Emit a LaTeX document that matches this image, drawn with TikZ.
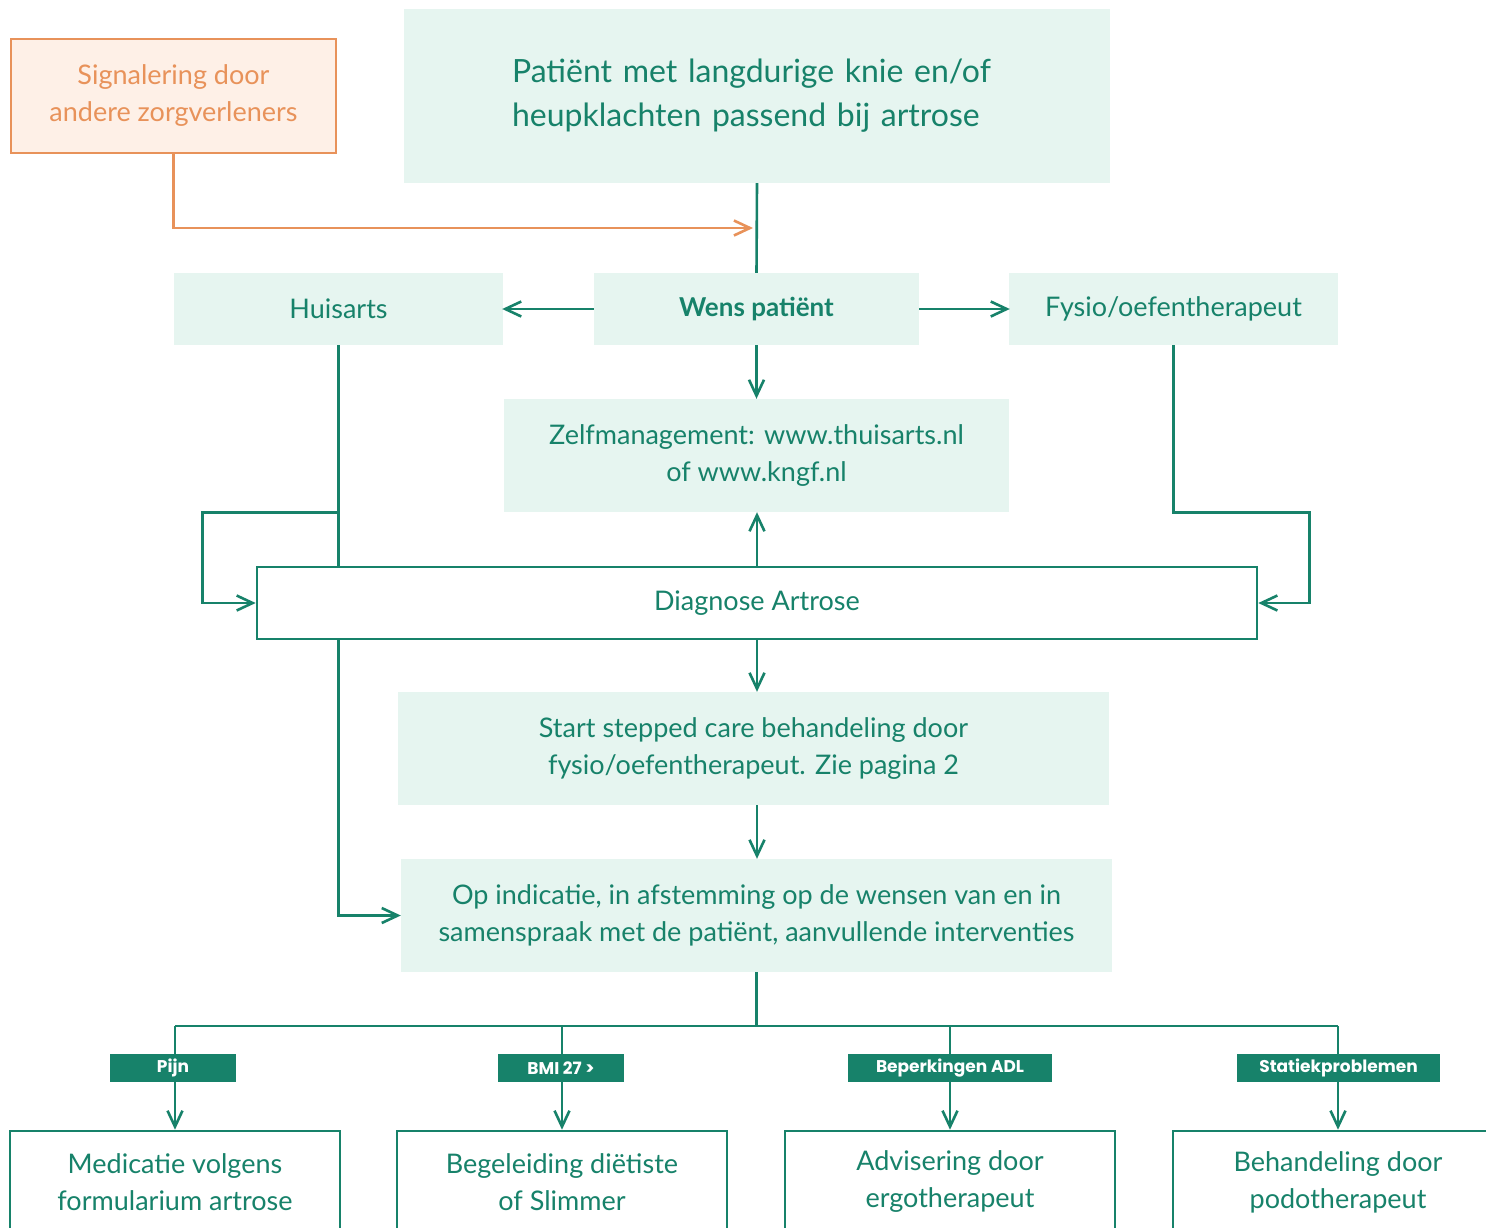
\documentclass[tikz,border=0pt]{standalone}
\usepackage{fontspec}
\setmainfont{Lato}
\newfontfamily\labfont{Poppins}
\usetikzlibrary{arrows.meta}
\definecolor{gr}{HTML}{17826A}
\definecolor{gfill}{HTML}{E6F5F0}
\definecolor{orn}{HTML}{E8925A}
\definecolor{ofill}{HTML}{FEF0E7}
\pgfdeclarelayer{bg}
\pgfdeclarelayer{paper}
\pgfsetlayers{paper,bg,main}
\tikzset{
  gl/.style={draw=gr, line width=2.6pt},
  arr/.style={gl, -{Straight Barb[length=16pt,width=15pt]}},
  oarr/.style={draw=orn, line width=2.6pt, -{Straight Barb[length=16pt,width=15pt]}},
  gbox/.style={fill=gfill, text=gr, inner sep=0pt, align=center, font=\fontsize{27}{37}\selectfont},
  wbox/.style={draw=gr, line width=2.6pt, fill=white, text=gr, inner sep=0pt, align=center, font=\fontsize{27}{37}\selectfont},
  obox/.style={draw=orn, line width=2.6pt, fill=ofill, text=orn, inner sep=0pt, align=center, font=\fontsize{27}{37}\selectfont},
  lab/.style={fill=gr, text=white, inner sep=0pt, minimum height=28pt, font=\labfont\bfseries\fontsize{17}{18}\selectfont}
}
\begin{document}
\begin{tikzpicture}[x=1pt,y=-1pt]
\clip (0,0) rectangle (1486,1227);
\begin{pgfonlayer}{paper}
\fill[white] (0,0) rectangle (1486,1227);
\end{pgfonlayer}
% boxes
\node[obox, minimum width=325pt, minimum height=114pt] (sig) at (173.5,96) {Signalering door\\andere zorgverleners};
\node[gbox, minimum width=706pt, minimum height=174pt, text width=490pt, align=left, font=\fontsize{32}{44}\selectfont] (title) at (757,96) {Patiënt met langdurige knie en/of\\heupklachten passend bij artrose};
\node[gbox, minimum width=329pt, minimum height=72pt] (huis) at (338.5,309) {Huisarts};
\node[gbox, minimum width=325pt, minimum height=72pt, font=\bfseries\fontsize{26}{36}\selectfont] (wens) at (756.5,309) {Wens patiënt};
\node[gbox, minimum width=329pt, minimum height=72pt] (fysio) at (1173.5,309) {Fysio/oefentherapeut};
\node[gbox, minimum width=505pt, minimum height=113pt] (zelf) at (756.5,455.5) {Zelfmanagement: www.thuisarts.nl\\of www.kngf.nl};
\node[wbox, minimum width=1000pt, minimum height=72pt] (diag) at (757,603) {Diagnose Artrose};
\node[gbox, minimum width=711pt, minimum height=113pt] (start) at (753.5,748.5) {Start stepped care behandeling door\\fysio/oefentherapeut. Zie pagina 2};
\node[gbox, minimum width=711pt, minimum height=113pt] (op) at (756.5,915.5) {Op indicatie, in afstemming op de wensen van en in\\samenspraak met de patiënt, aanvullende interventies};
\node[wbox, minimum width=330pt, minimum height=102pt] (b1) at (175,1182) {Medicatie volgens\\formularium artrose};
\node[wbox, minimum width=330pt, minimum height=102pt] (b2) at (562,1182) {Begeleiding diëtiste\\of Slimmer};
\node[wbox, minimum width=330pt, minimum height=102pt] (b3) at (950,1182) {Advisering door\\ergotherapeut};
\node[wbox, minimum width=330pt, minimum height=102pt] (b4) at (1338,1182) {Behandeling door\\podotherapeut};
% connectors
\coordinate (sj) at (753,228);
\coordinate (bus) at (756.5,1026);
\draw[oarr] (sig.south) |- (sj);
\draw[gl] (title.south) -- (wens.north);
\draw[arr, shorten >=-1pt] (wens.west) -- (huis.east);
\draw[arr, shorten >=-1pt] (wens.east) -- (fysio.west);
\draw[arr] (wens.south) -- (zelf.north);
\begin{pgfonlayer}{bg}
\draw[arr] (huis.south) |- (op.west);
\end{pgfonlayer}
\draw[arr] (huis.south |- zelf.south) -- ++(-136,0) |- (diag.west);
\draw[arr] (fysio.south) -- (fysio.south |- zelf.south) -- ++(136,0) |- (diag.east);
\draw[arr] (diag.north) -- (diag.north |- zelf.south);
\draw[arr] (diag.south) -- (diag.south |- start.north);
\draw[arr] (diag.south |- start.south) -- (diag.south |- op.north);
\draw[gl] (op.south) -- (bus);
\draw[gl] (b1.north |- bus) -- (b4.north |- bus);
\draw[arr] (b1.north |- bus) -- (b1.north);
\draw[arr] (b2.north |- bus) -- (b2.north);
\draw[arr] (b3.north |- bus) -- (b3.north);
\draw[arr] (b4.north |- bus) -- (b4.north);
% labels
\node[lab, minimum width=126pt] (l1) at (173,1068) {Pijn};
\node[lab, minimum width=126pt] (l2) at (561,1068) {BMI 27 >};
\node[lab, minimum width=204pt] (l3) at (950,1068) {Beperkingen ADL};
\node[lab, minimum width=203pt] (l4) at (1338.5,1068) {Statiekproblemen};
\end{tikzpicture}
\end{document}
